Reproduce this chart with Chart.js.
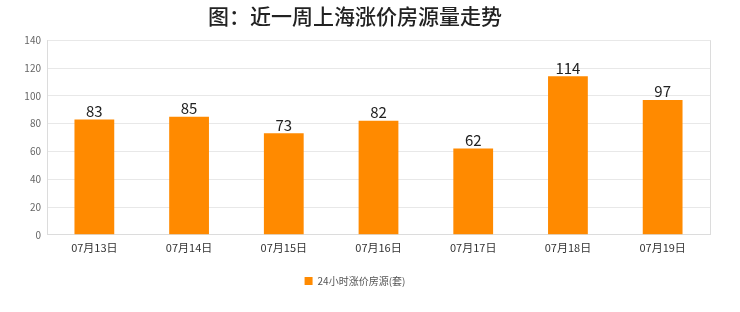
<!DOCTYPE html>
<html>
<head>
<meta charset="utf-8">
<script src="https://cdn.jsdelivr.net/npm/chart.js@4/dist/chart.umd.min.js"></script>
<style>
  html, body { margin: 0; padding: 0; background: #fff; }
  #wrap { width: 740px; height: 312px; position: relative; }
</style>
</head>
<body>
<div id="wrap"><canvas id="c"></canvas></div>
<script>
const categories = ['07月13日', '07月14日', '07月15日', '07月16日', '07月17日', '07月18日', '07月19日'];
const values = [83, 85, 73, 82, 62, 114, 97];
const seriesName = '24小时涨价房源(套)';
const titleText = '图：近一周上海涨价房源量走势';

const FONT = '"Noto Sans CJK SC", "Noto Sans", sans-serif';

// numbers above bars + right edge of the plot box
const labelPlugin = {
    id: 'labels',
    afterDatasetsDraw(chart) {
        const ctx = chart.ctx;
        const meta = chart.getDatasetMeta(0);
        ctx.save();
        ctx.font = '15px ' + FONT;
        ctx.fillStyle = '#222';
        ctx.textAlign = 'center';
        ctx.textBaseline = 'bottom';
        meta.data.forEach((bar, i) => {
            ctx.fillText(values[i], bar.x, bar.y - 1);
        });
        ctx.restore();
    },
    beforeDatasetsDraw(chart) {
        const a = chart.chartArea;
        const ctx = chart.ctx;
        ctx.save();
        ctx.strokeStyle = '#dcdcdc';
        ctx.lineWidth = 1;
        ctx.beginPath();
        ctx.moveTo(Math.round(a.right) + 0.5, a.top);
        ctx.lineTo(Math.round(a.right) + 0.5, a.bottom);
        ctx.stroke();
        ctx.restore();
    }
};

new Chart(document.getElementById('c'), {
    type: 'bar',
    data: {
        labels: categories,
        datasets: [{
            label: seriesName,
            data: values,
            backgroundColor: '#ff8a00',
            barPercentage: 0.42,
            categoryPercentage: 1.0
        }]
    },
    options: {
        responsive: true,
        maintainAspectRatio: false,
        animation: false,
        layout: { padding: { left: 0, right: 30, top: 0, bottom: 16 } },
        plugins: {
            title: {
                display: true,
                text: titleText,
                font: { family: FONT, size: 21, weight: '500' },
                color: '#222',
                padding: { top: 3, bottom: 12 }
            },
            legend: {
                position: 'bottom',
                labels: {
                    boxWidth: 8,
                    boxHeight: 8,
                    font: { family: FONT, size: 10 },
                    color: '#555',
                    padding: 16
                }
            },
            tooltip: { enabled: false }
        },
        scales: {
            x: {
                grid: { display: false, drawTicks: false },
                border: { color: '#dcdcdc' },
                ticks: { font: { family: FONT, size: 11 }, color: '#333', padding: 6 }
            },
            y: {
                min: 0,
                max: 140,
                ticks: { stepSize: 20, font: { family: FONT, size: 10 }, color: '#666', padding: 6 },
                grid: { color: '#e8e8e8', drawTicks: false },
                border: { color: '#dcdcdc' },
                afterFit(scale) { scale.width = 47; }
            }
        }
    },
    plugins: [labelPlugin]
});
</script>
</body>
</html>
